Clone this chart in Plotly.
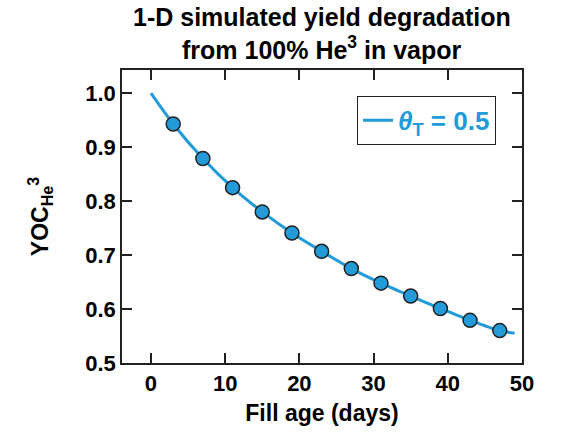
import plotly.graph_objects as go

# Simulated curve (theta_T = 0.5)
curve_x = [0, 3, 7, 11, 15, 19, 23, 27, 31, 35, 39, 43, 47, 49]
curve_y = [1.000, 0.943, 0.879, 0.825, 0.780, 0.741, 0.707, 0.675, 0.648, 0.624, 0.601, 0.579, 0.560, 0.555]

# Marker points
pts_x = [3, 7, 11, 15, 19, 23, 27, 31, 35, 39, 43, 47]
pts_y = [0.943, 0.879, 0.825, 0.780, 0.741, 0.707, 0.675, 0.648, 0.624, 0.601, 0.579, 0.560]

x_ticks = [0, 10, 20, 30, 40, 50]
y_ticks = [0.5, 0.6, 0.7, 0.8, 0.9, 1.0]
y_tick_text = ["0.5", "0.6", "0.7", "0.8", "0.9", "1.0"]

title_lines = ["1-D simulated yield degradation", "from 100% He<sup>3</sup> in vapor"]

BLUE = "#229BD8"
FONT = "Liberation Sans, Arial, sans-serif"

fig = go.Figure()
fig.add_trace(go.Scatter(
    x=curve_x, y=curve_y, mode="lines",
    line=dict(color=BLUE, width=3, shape="spline", smoothing=0.8),
    name="<i>θ</i><sub>T</sub> = 0.5", showlegend=True,
))
fig.add_trace(go.Scatter(
    x=pts_x, y=pts_y, mode="markers",
    marker=dict(color=BLUE, size=14, line=dict(color="#222222", width=1.5)),
    showlegend=False,
))

axis_common = dict(
    showline=True, linecolor="#222222", linewidth=1.5, mirror="ticks",
    ticks="inside", ticklen=10, tickwidth=1.5, tickcolor="#222222",
    showgrid=False, zeroline=False,
    tickfont=dict(family=FONT, size=22, color="black", weight="bold"),
)

for i, (line, py) in enumerate(zip(title_lines, [1.1797, 1.076])):
    fig.add_annotation(
        text=line, xref="paper", yref="paper", x=0.5, y=py,
        xanchor="center", yanchor="middle", showarrow=False,
        font=dict(family=FONT, size=25, color="black", weight="bold"),
    )

fig.update_layout(
    width=562, height=434,
    paper_bgcolor="white", plot_bgcolor="white",
    margin=dict(l=122, r=40, t=70, b=69),
    xaxis=dict(
        range=[-3.9, 50], tickvals=x_ticks,
        title=dict(text="Fill age (days)", font=dict(family=FONT, size=23, color="black", weight="bold"), standoff=10),
        **axis_common,
    ),
    yaxis=dict(
        range=[0.5, 1.043], tickvals=y_ticks, ticktext=y_tick_text,
        title=dict(text="YOC<sub>He</sub><sup>3</sup>", font=dict(family=FONT, size=23, color="black", weight="bold"), standoff=30),
        **axis_common,
    ),
    legend=dict(
        x=0.935, y=0.912, xanchor="right", yanchor="top",
        bordercolor="#222222", borderwidth=1, bgcolor="white",
        font=dict(family=FONT, size=26, color=BLUE, weight="bold"),
    ),
)

fig.write_html("out.html")
